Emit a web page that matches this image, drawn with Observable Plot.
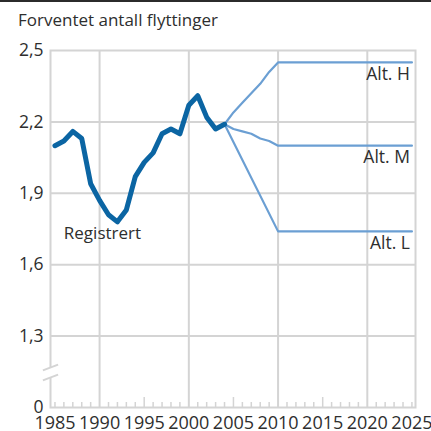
<!DOCTYPE html>
<html><head><meta charset="utf-8">
<script src="https://cdn.jsdelivr.net/npm/d3@7"></script>
<script src="https://cdn.jsdelivr.net/npm/@observablehq/plot@0.6"></script>
<style>
html,body{margin:0;padding:0;background:#fff;}
#wrap{width:431px;height:431px;border-top:2px solid #2b2b2b;box-sizing:border-box;font-family:"Open Sans",sans-serif;color:#2e2e2e;}
#title{height:36px;padding-left:18px;font-size:17px;line-height:36px;}
#chart svg{display:block;}
</style></head>
<body><div id="wrap"><div id="title">Forventet antall flyttinger</div><div id="chart"></div></div>
<script>
// Registered (observed) series
const registeredYears  = [1985,1986,1987,1988,1989,1990,1991,1992,1993,1994,1995,1996,1997,1998,1999,2000,2001,2002,2003,2004];
const registeredValues = [2.10,2.12,2.16,2.13,1.94,1.87,1.81,1.78,1.83,1.97,2.03,2.07,2.15,2.17,2.15,2.27,2.31,2.22,2.17,2.19];
// Projection alternatives
const projYears = [2004,2005,2006,2007,2008,2009,2010,2025];
const altH      = [2.19,2.24,2.28,2.32,2.36,2.41,2.45,2.45];
const altM      = [2.19,2.17,2.16,2.15,2.13,2.12,2.10,2.10];
const altLYears = [2004,2010,2025];
const altL      = [2.19,1.74,1.74];
const seriesNames = ["Alt. H","Alt. M","Alt. L"];
const registeredName = "Registrert";
const title = "Forventet antall flyttinger";
// Axes
const xDomain = [1984.5, 2025.4];
const yDomain = [1.0, 2.5];
const xTickLabels = [1985,1990,1995,2000,2005,2010,2015,2020,2025];
const xGridYears = [1990,2000,2010,2020];
const yTicks = [1.0,1.3,1.6,1.9,2.2,2.5];
const yGrid = [1.3,1.6,1.9,2.2];
const allYears = d3.range(1985, 2026);
const minorYears = allYears.filter(y => y % 5 !== 0 || y === 1985 || y === 2025);
const midYears = [1995,2005,2015];
const axisBreak = [1.126, 1.168]; // y-values of the broken-axis slashes

const GRID = "#d4d4d4", DARK = "#0b65a3", LIGHT = "#6b9fd3", TXT = "#2e2e2e";

const reg = registeredYears.map((x,i)=>({x, y: registeredValues[i]}));
const proj = [
  ...projYears.map((x,i)=>({x, y: altH[i], s: seriesNames[0]})),
  ...projYears.map((x,i)=>({x, y: altM[i], s: seriesNames[1]})),
  ...altLYears.map((x,i)=>({x, y: altL[i], s: seriesNames[2]}))
];
const ends = [
  {x: projYears.at(-1), y: altH.at(-1), s: seriesNames[0]},
  {x: projYears.at(-1), y: altM.at(-1), s: seriesNames[1]},
  {x: altLYears.at(-1), y: altL.at(-1), s: seriesNames[2]}
];
const iMin = d3.minIndex(registeredValues);
const regLabel = [{x: registeredYears[iMin], y: registeredValues[iMin], s: registeredName}];
const slashes = axisBreak.map(v => ({x1: xDomain[0]-0.85, x2: xDomain[0]+0.85, y1: v-0.012, y2: v+0.012}));
const fmt = d => d === 1 ? "0" : d.toFixed(1).replace(".", ",");

const chart = Plot.plot({
  width: 431, height: 393,
  marginTop: 12, marginBottom: 24, marginLeft: 50, marginRight: 16,
  style: {fontFamily: "Open Sans, sans-serif", fontSize: "17px", color: TXT, background: "#fff", overflow: "visible"},
  x: {domain: xDomain},
  y: {domain: yDomain},
  marks: [
    Plot.ruleY(yGrid, {stroke: GRID, strokeWidth: 2}),
    Plot.ruleX(xGridYears, {stroke: GRID, strokeWidth: 2}),
    Plot.frame({stroke: GRID, strokeWidth: 2}),
    Plot.ruleX([xDomain[0]], {y1: axisBreak[0], y2: axisBreak[1], stroke: "#fff", strokeWidth: 5}),
    Plot.link(slashes, {x1: "x1", x2: "x2", y1: "y1", y2: "y2", stroke: GRID, strokeWidth: 2}),
    Plot.ruleX(minorYears, {y1: yDomain[0], y2: yDomain[0], insetTop: -5, stroke: GRID, strokeWidth: 1.5}),
    Plot.ruleX(midYears, {y1: yDomain[0], y2: yDomain[0], insetTop: -10, stroke: GRID, strokeWidth: 1.5}),
    Plot.axisY(yTicks, {tickSize: 0, tickPadding: 7, tickFormat: fmt, fontSize: 17.5}),
    Plot.axisX(xTickLabels, {tickSize: 0, tickPadding: 9, tickFormat: d => String(d), fontSize: 18}),
    Plot.line(proj, {x: "x", y: "y", z: "s", stroke: LIGHT, strokeWidth: 2.2}),
    Plot.line(reg, {x: "x", y: "y", stroke: DARK, strokeWidth: 5, strokeLinejoin: "round"}),
    Plot.text(ends, {x: "x", y: "y", text: "s", textAnchor: "end", dx: -2, dy: 12, fill: TXT, fontSize: 17.5}),
    Plot.text(regLabel, {x: "x", y: "y", text: "s", dx: -15, dy: 12, fill: TXT, fontSize: 17})
  ]
});
document.getElementById("chart").appendChild(chart);
document.getElementById("title").textContent = title;
</script>
</body></html>
